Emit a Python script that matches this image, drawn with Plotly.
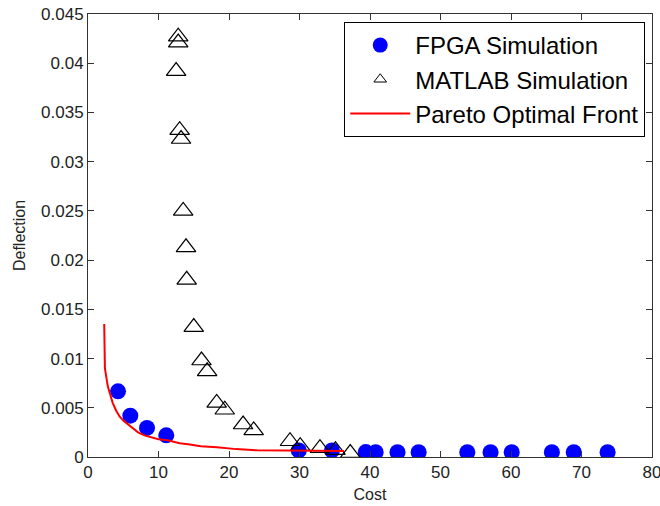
import plotly.graph_objects as go

# FPGA simulation (blue filled circles)
fpga_cost = [4.26, 6.0, 8.37, 11.1, 29.9, 34.6, 39.4, 40.8, 43.9, 46.9, 53.8, 57.1, 60.1, 65.8, 68.9, 73.7]
fpga_defl = [0.00667, 0.0042, 0.00295, 0.0022, 0.00067, 0.00067, 0.0005, 0.00048, 0.00048, 0.00048, 0.00048,
             0.00048, 0.00048, 0.00048, 0.00048, 0.00048]

# MATLAB simulation (open triangles)
matlab_cost = [12.8, 12.8, 12.5, 13.0, 13.2, 13.5, 13.9, 14.0, 15.0, 16.1, 16.9, 18.25, 19.4, 22.0, 23.5,
               28.65, 30.1, 32.9, 35.1, 37.2]
matlab_defl = [0.0427, 0.0421, 0.0392, 0.0332, 0.0323, 0.0250, 0.0213, 0.0180, 0.0132, 0.0098, 0.0087,
               0.0055, 0.0048, 0.0033, 0.0027, 0.0016, 0.0011, 0.0009, 0.0007, 0.0004]

# Pareto optimal front (red line)
pareto_cost = [2.3, 2.32, 2.4, 2.8, 3.1, 3.5, 4.0, 4.5, 5.0, 5.7, 6.5, 7.1, 8.0, 9.0, 10.0, 11.3, 13.0,
               14.2, 16.0, 18.3, 21.0, 24.0, 27.0, 29.0, 32.0, 34.0, 36.3]
pareto_defl = [0.0135, 0.0110, 0.0090, 0.0072, 0.0064, 0.0055, 0.0047, 0.0041, 0.0037, 0.0033, 0.0028,
               0.0025, 0.0022, 0.0020, 0.0018, 0.0017, 0.0014, 0.0013, 0.0011, 0.0010, 0.0008, 0.00068,
               0.00066, 0.00065, 0.00064, 0.00063, 0.00062]

x_ticks = [0, 10, 20, 30, 40, 50, 60, 70, 80]
y_ticks = [0, 0.005, 0.01, 0.015, 0.02, 0.025, 0.03, 0.035, 0.04, 0.045]
y_tick_text = ["0", "0.005", "0.01", "0.015", "0.02", "0.025", "0.03", "0.035", "0.04", "0.045"]

fig = go.Figure()
fig.add_trace(go.Scatter(x=fpga_cost, y=fpga_defl, mode="markers", showlegend=False,
                         marker=dict(symbol="circle", size=16, color="#0000ff", line=dict(width=0))))
fig.add_trace(go.Scatter(x=matlab_cost, y=matlab_defl, mode="markers", showlegend=False,
                         marker=dict(symbol="triangle-up-open", size=17, color="#000000",
                                     line=dict(width=1.2, color="#000000"))))
fig.add_trace(go.Scatter(x=pareto_cost, y=pareto_defl, mode="lines", showlegend=False,
                         line=dict(color="#ff0000", width=2)))

# legend entries
fig.add_trace(go.Scatter(x=[None], y=[None], mode="markers", name="FPGA Simulation",
                         marker=dict(symbol="circle", size=15, color="#0000ff")))
fig.add_trace(go.Scatter(x=[None], y=[None], mode="markers", name="MATLAB Simulation",
                         marker=dict(symbol="triangle-up-open", size=11, color="#000000",
                                     line=dict(width=1, color="#000000"))))
fig.add_trace(go.Scatter(x=[None], y=[None], mode="lines", name="Pareto Optimal Front",
                         line=dict(color="#ff0000", width=2)))

axis_common = dict(showgrid=False, zeroline=False, showline=True, linecolor="#333333", linewidth=1,
                   mirror="ticks", ticks="inside", ticklen=6, tickcolor="#333333", automargin=False,
                   ticklabeloverflow="allow",
                   tickfont=dict(family="Liberation Sans, Arial", size=17, color="#222222"))

fig.update_layout(
    width=660, height=506,
    margin=dict(l=88, r=8, t=14, b=49, autoexpand=False),
    paper_bgcolor="white", plot_bgcolor="white",
    font=dict(family="Liberation Sans, Arial", color="#222222"),
    xaxis=dict(range=[0, 80], tickvals=x_ticks, title=dict(text="Cost", font=dict(size=16), standoff=7),
               **axis_common),
    yaxis=dict(range=[0, 0.045], tickvals=y_ticks, ticktext=y_tick_text,
               title=dict(text="Deflection", font=dict(size=16), standoff=11), **axis_common),
    legend=dict(x=0.988, y=0.982, xanchor="right", yanchor="top", bgcolor="white",
                bordercolor="#000000", borderwidth=1, itemwidth=60,
                font=dict(family="Liberation Sans, Arial", size=24, color="#000000")),
)

fig.write_html("out.html", config={"displayModeBar": False},
               post_script="document.body.style.margin='0';document.body.style.overflow='hidden';")
